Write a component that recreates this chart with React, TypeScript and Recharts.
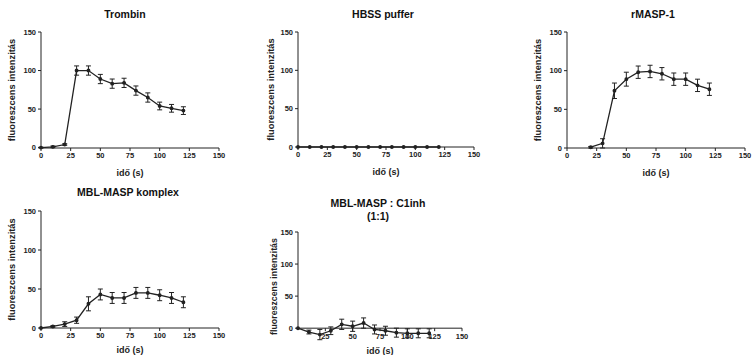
import React from "react";
import {
  LineChart,
  Line,
  XAxis,
  YAxis,
  ErrorBar,
  ReferenceLine,
} from "recharts";

// idő (s)
const time = [0, 10, 20, 30, 40, 50, 60, 70, 80, 90, 100, 110, 120];

const trombinMean = [0, 1, 4, 100, 100, 89, 83, 84, 74, 65, 54, 51, 48];
const trombinErr = [0.5, 1, 1, 6, 6, 6, 6, 6, 6, 6, 5, 5, 5];

const hbssMean = [0, 0, 0, 0, 0, 0, 0, 0, 0, 0, 0, 0, 0];
const hbssErr = [0, 0, 0, 0, 0, 0, 0, 0, 0, 0, 0, 0, 0];

const rmaspMean = [null, null, 1, 6, 74, 89, 98, 99, 96, 89, 89, 81, 76];
const rmaspErr = [null, null, 1, 6, 10, 9, 8, 8, 8, 8, 8, 8, 8];

const komplexMean = [0, 2, 5, 10, 31, 43, 38.5, 38.5, 45, 45, 42, 38.5, 33];
const komplexErr = [0, 1, 3, 4, 9, 7, 7, 7, 7, 7, 7, 7, 7];

const c1inhMean = [0, -6, -10, -4, 6, 3, 8, -2, -4, -7, -8, -8, -8];
const c1inhErr = [0, 3, 8, 6, 8, 8, 8, 7, 7, 7, 7, 7, 7];

const xTicks = [0, 25, 50, 75, 100, 125, 150];
const xTicksNoZero = [25, 50, 75, 100, 125, 150];
const yTicks = [0, 50, 100, 150];

const yLabel = "fluoreszcens intenzitás";
const xLabel = "idő (s)";

const FONT = "'Liberation Sans', Arial, sans-serif";
const INK = "#222";

const rows = (mean: (number | null)[], err: (number | null)[]) =>
  time.map((t, i) => ({ t, mean: mean[i], err: err[i] }));

type PanelProps = {
  title: string[];
  mean: (number | null)[];
  err: (number | null)[];
  left: number;
  top: number;
  width: number;
  height: number;
  margin: { top: number; right: number; bottom: number; left: number };
  yAxisWidth: number;
  xAxisHeight: number;
  labelOffset: number;
  titleX: number;
  titleY: number;
  yMin?: number;
  showBars?: boolean;
};

const tickStyle = { fontSize: 7.5, fontWeight: 700, fill: INK, fontFamily: FONT };

const Panel: React.FC<PanelProps> = (p) => {
  const yMin = p.yMin ?? 0;
  const floating = yMin < 0;
  const plotH = p.height - p.margin.top - p.margin.bottom - p.xAxisHeight;
  const shift = floating ? (plotH * -yMin) / (150 - yMin) : 0;

  // x axis drawn at y = 0 when the domain goes below zero
  const shiftedTick = (props: any) => {
    const { x, y, payload } = props;
    const axisY = y - 5 - shift;
    return (
      <g>
        <line x1={x} x2={x} y1={axisY} y2={axisY + 3} stroke={INK} />
        <text
          x={x}
          y={axisY + 5}
          dy="0.71em"
          textAnchor="middle"
          style={tickStyle}
        >
          {payload.value}
        </text>
      </g>
    );
  };

  return (
    <div style={{ position: "absolute", left: p.left, top: p.top }}>
      <div
        style={{
          position: "absolute",
          left: p.titleX - p.left - 100,
          top: p.titleY - p.top,
          width: 200,
          textAlign: "center",
          fontFamily: FONT,
          fontWeight: 700,
          fontSize: 10.5,
          lineHeight: "13px",
          color: "#111",
        }}
      >
        {p.title.map((line) => (
          <div key={line}>{line}</div>
        ))}
      </div>
      <LineChart
        width={p.width}
        height={p.height}
        data={rows(p.mean, p.err)}
        margin={p.margin}
      >
        <XAxis
          dataKey="t"
          type="number"
          domain={[0, 150]}
          ticks={floating ? xTicksNoZero : xTicks}
          interval={0}
          height={p.xAxisHeight}
          tickSize={3}
          tickMargin={2}
          stroke={INK}
          axisLine={!floating}
          tickLine={!floating}
          tick={floating ? shiftedTick : tickStyle}
          label={{
            value: xLabel,
            position: "insideBottom",
            offset: floating ? 1 : 2,
            style: { fontSize: 9, fontWeight: 700, fill: INK, fontFamily: FONT },
          }}
        />
        <YAxis
          type="number"
          domain={[yMin, 150]}
          ticks={yTicks}
          interval={0}
          width={p.yAxisWidth}
          tickSize={3}
          tickMargin={2}
          stroke={INK}
          axisLine={!floating}
          tick={tickStyle}
          label={{
            value: yLabel,
            angle: -90,
            position: "insideLeft",
            offset: p.labelOffset,
            style: {
              textAnchor: "middle",
              fontSize: floating ? 8.8 : 9.3,
              fontWeight: 700,
              fill: INK,
              fontFamily: FONT,
            },
          }}
        />
        {floating && (
          <ReferenceLine
            segment={[
              { x: 0, y: 0 },
              { x: 150, y: 0 },
            ]}
            stroke={INK}
          />
        )}
        {floating && (
          <ReferenceLine
            segment={[
              { x: 0, y: 0 },
              { x: 0, y: 150 },
            ]}
            stroke={INK}
          />
        )}
        <Line
          type="linear"
          dataKey="mean"
          stroke={INK}
          strokeWidth={1.3}
          dot={{ r: 1.3, fill: INK, stroke: INK }}
          isAnimationActive={false}
        >
          {p.showBars !== false && (
            <ErrorBar
              dataKey="err"
              width={2.5}
              stroke={INK}
              strokeWidth={1}
              direction="y"
              isAnimationActive={false}
            />
          )}
        </Line>
      </LineChart>
    </div>
  );
};

export default function App() {
  return (
    <div
      style={{
        position: "absolute",
        left: 0,
        top: 0,
        width: 752,
        height: 355,
        background: "#fff",
        overflow: "hidden",
      }}
    >
      <Panel
        title={["Trombin"]}
        mean={trombinMean}
        err={trombinErr}
        left={0}
        top={0}
        width={240}
        height={178}
        margin={{ top: 32, right: 21, bottom: 0, left: 0 }}
        yAxisWidth={41}
        xAxisHeight={30}
        labelOffset={12}
        titleX={125}
        titleY={8}
      />
      <Panel
        title={["HBSS puffer"]}
        mean={hbssMean}
        err={hbssErr}
        left={250}
        top={0}
        width={245}
        height={177}
        margin={{ top: 32, right: 21, bottom: 0, left: 0 }}
        yAxisWidth={48}
        xAxisHeight={30}
        labelOffset={21}
        titleX={383}
        titleY={8}
        showBars={false}
      />
      <Panel
        title={["rMASP-1"]}
        mean={rmaspMean}
        err={rmaspErr}
        left={500}
        top={0}
        width={252}
        height={178}
        margin={{ top: 32, right: 7, bottom: 0, left: 0 }}
        yAxisWidth={67}
        xAxisHeight={30}
        labelOffset={38}
        titleX={653}
        titleY={8}
      />
      <Panel
        title={["MBL-MASP komplex"]}
        mean={komplexMean}
        err={komplexErr}
        left={0}
        top={175}
        width={240}
        height={180}
        margin={{ top: 36, right: 21, bottom: 0, left: 0 }}
        yAxisWidth={41}
        xAxisHeight={27}
        labelOffset={12}
        titleX={128}
        titleY={186}
      />
      <Panel
        title={["MBL-MASP : C1inh", "(1:1)"]}
        mean={c1inhMean}
        err={c1inhErr}
        left={250}
        top={175}
        width={245}
        height={180}
        margin={{ top: 57, right: 33, bottom: 0, left: 0 }}
        yAxisWidth={48}
        xAxisHeight={14}
        labelOffset={24}
        titleX={378}
        titleY={197}
        yMin={-20}
      />
    </div>
  );
}
